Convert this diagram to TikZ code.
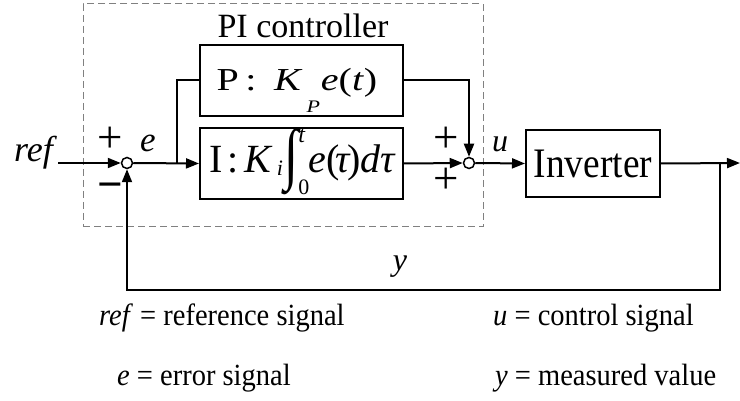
\documentclass[tikz,border=0pt]{standalone}
\usepackage{graphicx}
\usepackage{fontspec}
\setmainfont{Liberation Serif}
\usetikzlibrary{arrows.meta}
\tikzset{
  blk/.style={draw, line width=2pt, inner sep=0pt},
  sumj/.style={circle, draw, fill=white, line width=1.5pt, minimum size=11pt, inner sep=0pt},
  conn/.style={line width=2pt},
  arr/.style={conn, -{Triangle[length=13pt,width=10pt]}},
  lbl/.style={inner sep=0pt, anchor=base, font=\fontsize{32}{36}\selectfont\itshape},
  sgn/.style={inner sep=0pt, anchor=base, font=\fontsize{45}{50}\selectfont},
  leg/.style={inner sep=0pt, anchor=base west, font=\fontsize{28.5}{34}\selectfont},
}
\newcommand{\legtxt}[1]{\scalebox{1}[1.08]{#1}}
\begin{document}
\begin{tikzpicture}[x=1pt,y=-1pt]
\useasboundingbox (0,0) rectangle (740,401);
% PI controller frame
\node[draw=gray, dash pattern=on 7pt off 4pt, line width=1pt, minimum width=400pt, minimum height=223pt, inner sep=0pt] (frame) at (283,115.5) {};
\node[inner sep=0pt, anchor=base, font=\fontsize{34}{38}\selectfont] (title) at (303,38) {PI controller};
% blocks
\node[blk, minimum width=203pt, minimum height=71pt] (P) at (301.5,80.5) {\raisebox{-10.5pt}[0pt][0pt]{\scalebox{1}[0.8]{\fontsize{40}{40}\selectfont P\hspace{6.5pt}:\hspace{17.5pt}\textit{K}\hspace{4pt}\raisebox{-27.5pt}[0pt][0pt]{\fontsize{22}{22}\selectfont\textit{P}}\hspace{1pt}\textit{e}(\textit{t})\hspace{9pt}}}};
\node[blk, minimum width=203pt, minimum height=71pt] (I) at (301.5,163.5) {\raisebox{-9.5pt}[0pt][0pt]{\fontsize{40}{40}\selectfont\hspace{2.4pt}I\hspace{5pt}:\hspace{5.6pt}\textit{K}\hspace{4pt}\raisebox{-3pt}[0pt][0pt]{\fontsize{22}{22}\selectfont\textit{i}}\hspace{1.2pt}\raisebox{-22pt}[0pt][0pt]{\resizebox*{14pt}{67pt}{\raisebox{\depth}{∫}}}\rlap{\raisebox{30pt}[0pt][0pt]{\fontsize{24}{24}\selectfont\textit{t}}}\raisebox{-22pt}[0pt][0pt]{\fontsize{22}{22}\selectfont 0}\hspace{-1pt}\textit{e}(\hspace{-4pt}\textit{τ}\hspace{-3pt})\hspace{-1pt}\textit{d}\textit{τ}}};
\node[blk, minimum width=134pt, minimum height=67pt] (Inv) at (593,163.5) {\raisebox{-14.5pt}[0pt][0pt]{\scalebox{0.89}[1]{\fontsize{42}{42}\selectfont Inverter}}};
% summing junctions
\node[sumj] (s1) at (127,163) {};
\node[sumj] (s2) at (469,163) {};
% signs
\node[sgn] (p1) at (110,153) {+};
\node[sgn, font=\fontsize{45}{50}\selectfont\bfseries] (m1) at (110,200) {−};
\node[sgn] (p2) at (446,153) {+};
\node[sgn] (p3) at (446,194) {+};
% labels
\node[inner sep=0pt, anchor=base west, font=\fontsize{36}{40}\selectfont\itshape] (ref) at (14,162) {ref};
\node[lbl, font=\fontsize{35}{40}\selectfont\itshape] (e) at (148,152) {e};
\node[lbl] (u) at (500,152) {u};
\node[lbl] (y) at (400,271) {y};
% coordinates
\coordinate (refstart) at (58,163);
\coordinate (br1) at (177,163);
\coordinate (br2) at (720,163);
\coordinate (fbc) at (720,290);
\coordinate (outend) at (740,163);
% connectors
\draw[arr] (refstart) -- (s1.west);
\draw[arr] (s1.east) -- (I.west);
\draw[conn] (br1) |- (P.west);
\draw[arr] (P.east) -| (s2.north);
\draw[arr] (I.east) -- (s2.west);
\draw[arr] (s2.east) -- (Inv.west);
\draw[arr] (Inv.east) -- (outend);
\draw[arr] (br2) -- (fbc) -| (s1.south);
% legend
\node[leg] (l1) at (99,326) {\legtxt{\textit{ref} = reference signal}};
\node[leg] (l2) at (117,385) {\legtxt{\textit{e} = error signal}};
\node[leg] (l3) at (493,326) {\legtxt{\textit{u} = control signal}};
\node[leg] (l4) at (495,385) {\legtxt{\textit{y} = measured value}};
\end{tikzpicture}
\end{document}
